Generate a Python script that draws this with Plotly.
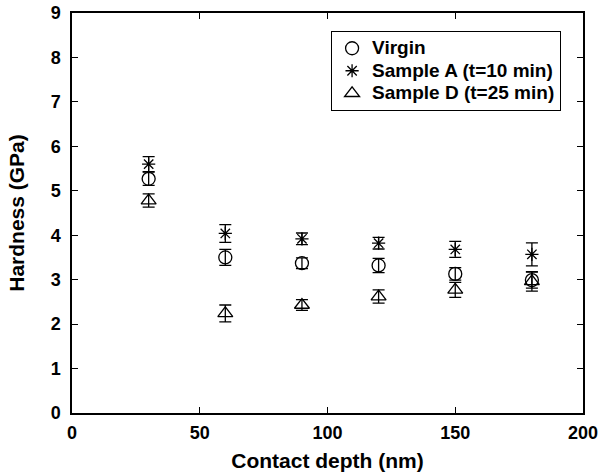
import plotly.graph_objects as go

depth = [30, 60, 90, 120, 150, 180]
virgin = [5.27, 3.50, 3.37, 3.32, 3.13, 2.99]
virgin_err = [0.15, 0.18, 0.12, 0.16, 0.14, 0.18]
sample_a = [5.60, 4.04, 3.92, 3.82, 3.68, 3.57]
sample_a_err = [0.17, 0.20, 0.13, 0.13, 0.18, 0.26]
sample_d = [4.78, 2.24, 2.43, 2.62, 2.77, 2.96]
sample_d_err = [0.15, 0.19, 0.12, 0.15, 0.17, 0.22]

names = ["Virgin", "Sample A (t=10 min)", "Sample D (t=25 min)"]
x_ticks = [0, 50, 100, 150, 200]
y_ticks = list(range(0, 10))

FONT = "Liberation Sans, Arial, Helvetica, sans-serif"

fig = go.Figure()
specs = [
    (virgin, virgin_err, "circle-open", 13),
    (sample_a, sample_a_err, "asterisk-open", 11),
    (sample_d, sample_d_err, "triangle-up-open", 13),
]
for name, (vals, errs, sym, sz) in zip(names, specs):
    fig.add_trace(go.Scatter(
        x=depth, y=vals, mode="markers",
        name='<span style="font-size:19px">' + name + "</span>",
        marker=dict(symbol=sym, size=sz, color="black", line=dict(color="black", width=1.3)),
        error_y=dict(type="data", array=errs, visible=True, color="black", thickness=1.3, width=6),
    ))

axis_common = dict(
    showline=True, linecolor="black", linewidth=1.5, mirror="ticks",
    ticks="inside", ticklen=6, tickwidth=1.3, tickcolor="black",
    showgrid=False, zeroline=False, automargin=False,
    ticklabeloverflow="allow",
    tickfont=dict(family=FONT, size=18, color="black", weight="bold"),
)

fig.update_layout(
    width=600, height=474,
    margin=dict(l=72, r=17, t=13, b=61),
    paper_bgcolor="white", plot_bgcolor="white",
    showlegend=True,
    legend=dict(
        x=0.507, y=0.955, xanchor="left", yanchor="top",
        bordercolor="black", borderwidth=1, bgcolor="white",
        font=dict(family=FONT, size=15, color="black", weight="bold"),
        itemwidth=30, tracegroupgap=0,
    ),
    xaxis=dict(
        range=[0, 200], tickvals=x_ticks, ticktext=[str(v) for v in x_ticks],
        title=dict(text="Contact depth (nm)", font=dict(family=FONT, size=21, color="black", weight="bold"), standoff=11),
        ticklabelstandoff=3,
        **axis_common,
    ),
    yaxis=dict(
        range=[0, 9], tickvals=y_ticks, ticktext=[str(v) for v in y_ticks],
        title=dict(text="Hardness (GPa)", font=dict(family=FONT, size=21, color="black", weight="bold"), standoff=20),
        ticklabelstandoff=6,
        **axis_common,
    ),
)

# remove the default page margin so the figure fills the window exactly
fig.write_html(
    "out.html",
    config={"displayModeBar": False},
    post_script="document.body.style.margin='0';document.body.style.overflow='hidden';",
)
